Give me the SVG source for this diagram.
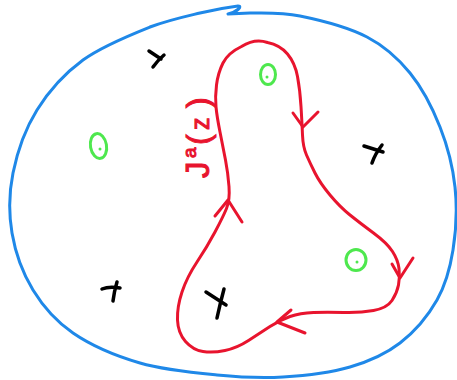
<svg xmlns="http://www.w3.org/2000/svg" width="457" height="380" viewBox="0 0 457 380">
<style>
.blue{fill:none;stroke:#1f88e8;stroke-width:3;stroke-linecap:round;stroke-linejoin:round}
.red{fill:none;stroke:#e8142e;stroke-width:3;stroke-linecap:round;stroke-linejoin:round}
.cross{fill:none;stroke:#000;stroke-width:3.5;stroke-linecap:round;stroke-linejoin:round}
.grn{fill:none;stroke:#4ee84e;stroke-width:3}
.dot{fill:#4ee84e}
.lbl{fill:#e8142e;stroke:#e8142e;stroke-width:1;font-family:"Liberation Sans","DejaVu Sans",sans-serif}
</style>
<rect width="457" height="380" fill="#fff"/>
<g id="boundary">
<path class="blue" d="M228,14 L250,13 C262,13.3 280.5,12 300,16 C319.5,20 348.7,27.5 367,37 C385.3,46.5 397.8,58 410,73 C422.2,88 432.5,108 440,127 C447.5,146 452.8,166.5 455,187 C457.2,207.5 456,231.2 453,250 C450,268.8 445.8,284.5 437,300 C428.2,315.5 414.5,331.8 400,343 C385.5,354.2 369.5,361.3 350,367 C330.5,372.7 305.2,375.7 283,377 C260.8,378.3 240.8,377.3 217,375 C193.2,372.7 164,370 140,363 C116,356 90.8,345.2 73,333 C55.2,320.8 43.2,306.7 33,290 C22.8,273.3 15.3,252.5 12,233 C8.7,213.5 8.8,193.5 13,173 C17.2,152.5 25.3,128.8 37,110 C48.7,91.2 64.2,73.8 83,60 C101.8,46.2 130.5,34.8 150,27 C169.5,19.8 185.3,16.5 200,13 C214.7,9.5 230,7 238,6 C243,6 237,12 228,14"/>
</g>
<g id="contour">
<path class="red" d="M267.5,42.5 Q280,45 287.5,54 Q295,63 297.5,76.5 Q300,90 301,106.5 Q302,123 302.5,135 Q303,147 306.5,155 Q310,163 315,173 Q320,183 330,195 Q340,207 350,215 Q360,223 373.5,233 Q387,243 392.5,251.5 Q398,260 399,268.5 Q400,277 398.5,285 Q397,293 392,300.5 Q387,308 373.5,310.5 Q360,313 343.5,312.5 Q327,312 313.5,312.5 Q300,313 290,316.5 Q280,320 270,326.5 Q260,333 248.5,340.5 Q237,348 225,350.5 Q213,353 203,351.5 Q193,350 185.5,341.5 Q178,333 177.5,320 Q177,307 182,292 Q187,277 197,262 Q207,247 215,232 Q223,217 226.5,208.5 Q230,200 229,186.5 Q228,173 225.5,160 Q223,147 220,132 Q217,117 216,107 Q215,97 216.5,85 Q218,73 223,63 Q228,53 241.5,46.5 Q255,38 267.5,42.5 Z"/>
</g>
<g id="arrows">
<polyline class="red" points="293,113 303,127 318,112"/>
<polyline class="red" points="392,264 400,278 413,258"/>
<polyline class="red" points="291,310 277,322 305,333"/>
<polyline class="red" points="215,216 228,200 242,222"/>
</g>
<g id="label">
<text class="lbl" transform="translate(209,178) rotate(-90)" font-size="30"><tspan x="0" font-size="33">J</tspan><tspan x="20" dy="-13" font-size="19">a</tspan><tspan x="33" dy="13" font-size="32">(</tspan><tspan x="48" font-size="25">z</tspan><tspan x="70" font-size="32">)</tspan></text>
</g>
<g id="crosses">
<g id="x1"><path class="cross" d="M149,51 L161,59 M164,55 Q158,60 153,67"/></g>
<g id="x2"><path class="cross" d="M364,146 L383,152 M382,145 Q375,154 372,163"/></g>
<g id="x3"><path class="cross" d="M102,289 Q109,286 120,288 M117,282 Q114,292 113,301"/></g>
<g id="x4"><path class="cross" d="M206,292 L226,305 M224,289 Q220,304 217,318"/></g>
</g>
<g id="circles">
<g id="o1"><ellipse class="grn" cx="268" cy="74.5" rx="7.5" ry="10"/><circle class="dot" cx="267" cy="77" r="1.5"/></g>
<g id="o2"><ellipse class="grn" cx="98.5" cy="146" rx="8" ry="12.5" transform="rotate(-10 98.5 146)"/><circle class="dot" cx="100" cy="149" r="1.5"/></g>
<g id="o3"><ellipse class="grn" cx="356" cy="260" rx="10" ry="10.5"/><circle class="dot" cx="357" cy="262" r="1.5"/></g>
</g>
</svg>
